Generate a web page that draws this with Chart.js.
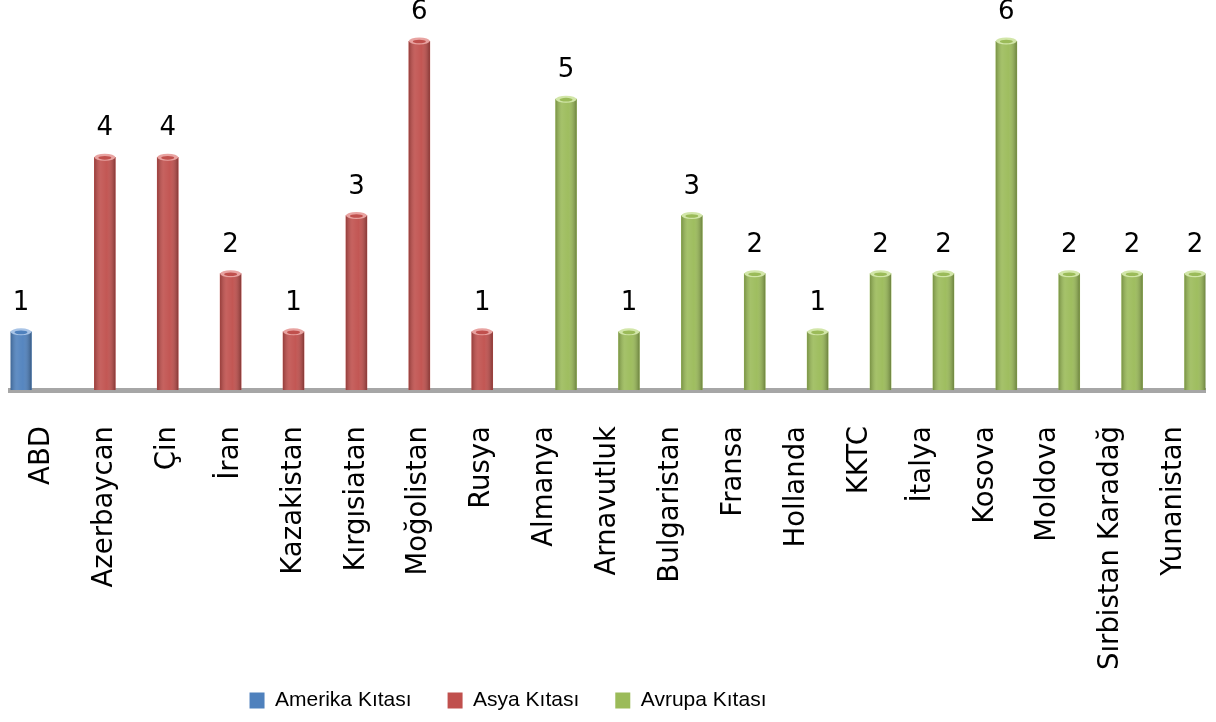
<!DOCTYPE html>
<html>
<head>
<meta charset="utf-8">
<script src="https://cdn.jsdelivr.net/npm/chart.js@4"></script>
<style>
  html, body { margin: 0; padding: 0; background: #fff; }
  #wrap { width: 1216px; height: 722px; }
</style>
</head>
<body>
<div id="wrap"><canvas id="chart"></canvas></div>
<script>
// categories and values
const countries = ['ABD', 'Azerbaycan', 'Çin', 'İran', 'Kazakistan', 'Kırgısiatan', 'Moğolistan', 'Rusya',
  'Almanya', 'Arnavutluk', 'Bulgaristan', 'Fransa', 'Hollanda', 'KKTC', 'İtalya', 'Kosova', 'Moldova',
  'Sırbistan Karadağ', 'Yunanistan'];
const amerika = [1, null, null, null, null, null, null, null, null, null, null, null, null, null, null, null, null, null, null];
const asya = [null, 4, 4, 2, 1, 3, 6, 1, null, null, null, null, null, null, null, null, null, null, null];
const avrupa = [null, null, null, null, null, null, null, null, 5, 1, 3, 2, 1, 2, 2, 6, 2, 2, 2];
const seriesNames = ['Amerika Kıtası', 'Asya Kıtası', 'Avrupa Kıtası'];
const yMax = 6;

const colors = ['#4f81bd', '#c0504d', '#9bbb59'];
const capColors = ['#a9c4e6', '#e8a3a1', '#d2e6a9'];

// shading so the flat bars read as the cylinders of the original
const cylinderPlugin = {
  id: 'cylinder',
  afterDatasetsDraw(chart) {
    const ctx = chart.ctx;
    chart.data.datasets.forEach((ds, i) => {
      const meta = chart.getDatasetMeta(i);
      meta.data.forEach((bar, j) => {
        if (ds.data[j] == null) return;
        const p = bar.getProps(['x', 'y', 'base', 'width'], true);
        const l = p.x - p.width / 2;
        const g = ctx.createLinearGradient(l, 0, l + p.width, 0);
        g.addColorStop(0, 'rgba(0,0,0,0.22)');
        g.addColorStop(0.3, 'rgba(255,255,255,0.10)');
        g.addColorStop(0.6, 'rgba(255,255,255,0.04)');
        g.addColorStop(1, 'rgba(0,0,0,0.30)');
        ctx.save();
        ctx.fillStyle = g;
        ctx.fillRect(l, p.y, p.width, p.base - p.y);
        ctx.beginPath();
        ctx.ellipse(p.x, p.y, p.width / 2, 3.5, 0, 0, Math.PI * 2);
        ctx.fillStyle = capColors[i];
        ctx.fill();
        ctx.beginPath();
        ctx.ellipse(p.x, p.y + 0.5, p.width / 2 - 4, 1.8, 0, 0, Math.PI * 2);
        ctx.fillStyle = colors[i];
        ctx.fill();
        ctx.restore();
      });
    });
  }
};

// value labels above each bar
const valueLabels = {
  id: 'valueLabels',
  afterDatasetsDraw(chart) {
    const ctx = chart.ctx;
    ctx.save();
    ctx.font = '26px "DejaVu Sans"';
    ctx.fillStyle = '#000';
    ctx.textAlign = 'center';
    ctx.textBaseline = 'alphabetic';
    chart.data.datasets.forEach((ds, i) => {
      chart.getDatasetMeta(i).data.forEach((bar, j) => {
        if (ds.data[j] == null) return;
        ctx.fillText(String(ds.data[j]), bar.x, bar.y - 22);
      });
    });
    ctx.restore();
  }
};

// the original legend sits left of the page centre and tight under the labels
const legendShift = {
  id: 'legendShift',
  afterLayout(chart) {
    const lg = chart.legend;
    if (lg) {
      lg.right -= 200;
      lg.width -= 200;
      lg.top -= 52;
      lg.bottom -= 52;
    }
  }
};

new Chart(document.getElementById('chart'), {
  type: 'bar',
  data: {
    labels: countries,
    datasets: [
      { label: seriesNames[0], data: amerika, backgroundColor: colors[0] },
      { label: seriesNames[1], data: asya, backgroundColor: colors[1] },
      { label: seriesNames[2], data: avrupa, backgroundColor: colors[2] }
    ]
  },
  options: {
    responsive: true,
    maintainAspectRatio: false,
    animation: false,
    layout: { padding: { top: 41, left: 10.5, right: 10.5, bottom: -51 } },
    datasets: {
      bar: { categoryPercentage: 1, barPercentage: 1, borderWidth: 0 }
    },
    scales: {
      x: {
        grid: { display: false, drawTicks: false },
        border: { display: true, color: '#a6a6a6', width: 5 },
        ticks: {
          color: '#000',
          font: { family: 'DejaVu Sans', size: 27.5 },
          minRotation: 90,
          maxRotation: 90,
          autoSkip: false,
          padding: 36
        },
        afterFit(scale) {
          scale.paddingLeft = 0;
          scale.paddingRight = 0;
        }
      },
      y: {
        display: false,
        min: 0,
        max: yMax
      }
    },
    plugins: {
      legend: {
        position: 'bottom',
        labels: {
          color: '#000',
          font: { family: 'Liberation Sans', size: 21 },
          boxWidth: 15,
          boxHeight: 16,
          padding: 36
        }
      },
      tooltip: { enabled: false }
    }
  },
  plugins: [cylinderPlugin, valueLabels, legendShift]
});
</script>
</body>
</html>
